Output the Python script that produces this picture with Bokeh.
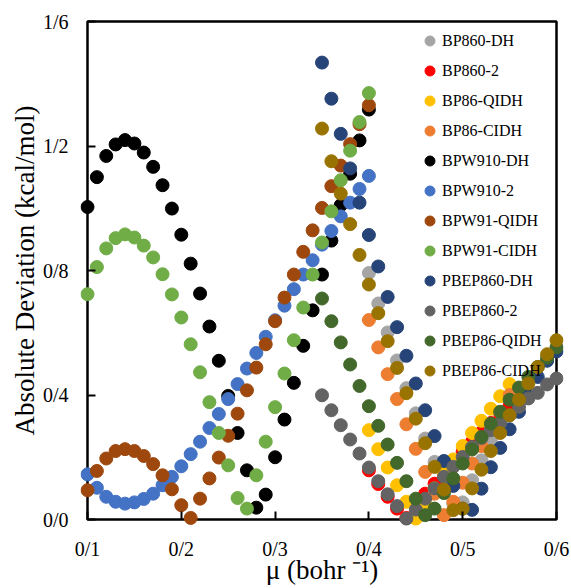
from bokeh.plotting import figure
from bokeh.models import Range1d, FixedTicker, BoxAnnotation
from bokeh.embed import file_html
from bokeh.resources import INLINE

# x positions (mu, bohr^-1)
mu_bpw = [0.10, 0.11, 0.12, 0.13, 0.14, 0.15, 0.16, 0.17, 0.18, 0.19, 0.20,
          0.21, 0.22, 0.23, 0.24, 0.25, 0.26, 0.27, 0.28, 0.29, 0.30,
          0.31, 0.32, 0.33, 0.34, 0.35, 0.36, 0.37, 0.38, 0.39, 0.40]
mu_pbe = [0.35, 0.36, 0.37, 0.38, 0.39, 0.40, 0.41, 0.42, 0.43, 0.44, 0.45,
          0.46, 0.47, 0.48, 0.49, 0.50, 0.51, 0.52, 0.53, 0.54, 0.55,
          0.56, 0.57, 0.58, 0.59, 0.60]
mu_bp86 = [0.40, 0.41, 0.42, 0.43, 0.44, 0.45, 0.46, 0.47, 0.48, 0.49, 0.50,
           0.51, 0.52, 0.53, 0.54, 0.55]

# absolute deviations (kcal/mol)
bp860_dh = [0.792, 0.694, 0.601, 0.511, 0.422, 0.341, 0.260, 0.185, 0.115, 0.050, 0.055,
            0.126, 0.190, 0.255, 0.310, 0.365]
bp860_2 = [0.158, 0.114, 0.073, 0.035, 0.005, 0.045, 0.083, 0.115, 0.150, 0.185, 0.218,
           0.250, 0.280, 0.310, 0.338, 0.365]
bp86_qidh = [0.287, 0.226, 0.167, 0.110, 0.057, 0.003, 0.048, 0.100, 0.150, 0.193, 0.236,
             0.278, 0.317, 0.356, 0.396, 0.435]
bp86_cidh = [0.641, 0.553, 0.467, 0.387, 0.306, 0.227, 0.153, 0.083, 0.014, 0.057, 0.118,
             0.180, 0.236, 0.290, 0.345, 0.400]
bpw910_dh = [1.004, 1.100, 1.168, 1.205, 1.219, 1.208, 1.179, 1.133, 1.074, 0.999, 0.915,
             0.822, 0.726, 0.620, 0.510, 0.397, 0.278, 0.158, 0.038, 0.080, 0.200,
             0.321, 0.439, 0.558, 0.672, 0.787, 0.896, 1.010, 1.111, 1.218, 1.317]
bpw910_2 = [0.145, 0.102, 0.073, 0.057, 0.051, 0.055, 0.066, 0.083, 0.110, 0.137, 0.171,
            0.210, 0.250, 0.294, 0.339, 0.387, 0.435, 0.485, 0.535, 0.587, 0.640,
            0.687, 0.740, 0.787, 0.833, 0.883, 0.927, 0.974, 1.018, 1.062, 1.104]
bpw91_qidh = [0.094, 0.156, 0.196, 0.220, 0.226, 0.220, 0.204, 0.178, 0.142, 0.097, 0.046,
              0.005, 0.067, 0.132, 0.199, 0.269, 0.340, 0.415, 0.488, 0.563, 0.637,
              0.713, 0.787, 0.860, 0.929, 1.001, 1.071, 1.137, 1.206, 1.270, 1.331]
bpw91_cidh = [0.724, 0.811, 0.871, 0.904, 0.916, 0.906, 0.880, 0.842, 0.788, 0.723, 0.649,
              0.563, 0.473, 0.377, 0.278, 0.174, 0.069, 0.035, 0.142, 0.250, 0.361,
              0.469, 0.576, 0.681, 0.787, 0.890, 0.990, 1.090, 1.185, 1.277, 1.370]
pbep860_dh = [1.468, 1.352, 1.239, 1.128, 1.018, 0.914, 0.813, 0.715, 0.618, 0.526, 0.437,
              0.351, 0.268, 0.188, 0.108, 0.035, 0.031, 0.099, 0.168, 0.230, 0.290,
              0.346, 0.400, 0.458, 0.510, 0.540]
pbep860_2 = [0.399, 0.351, 0.303, 0.257, 0.212, 0.167, 0.123, 0.081, 0.043, 0.003, 0.032,
             0.067, 0.100, 0.137, 0.169, 0.201, 0.233, 0.262, 0.287, 0.310, 0.335,
             0.362, 0.389, 0.407, 0.434, 0.453]
pbep86_qidh = [0.710, 0.637, 0.569, 0.498, 0.429, 0.364, 0.301, 0.241, 0.182, 0.123, 0.067,
               0.014, 0.035, 0.085, 0.132, 0.180, 0.225, 0.265, 0.308, 0.346, 0.385,
               0.424, 0.458, 0.490, 0.520, 0.553]
pbep86_cidh = [1.256, 1.151, 1.047, 0.949, 0.850, 0.755, 0.663, 0.573, 0.487, 0.406, 0.324,
               0.245, 0.169, 0.096, 0.030, 0.035, 0.100, 0.160, 0.220, 0.278, 0.335,
               0.385, 0.437, 0.490, 0.531, 0.576]

series_names = ["BP860-DH", "BP860-2", "BP86-QIDH", "BP86-CIDH",
                "BPW910-DH", "BPW910-2", "BPW91-QIDH", "BPW91-CIDH",
                "PBEP860-DH", "PBEP860-2", "PBEP86-QIDH", "PBEP86-CIDH"]
series_x = [mu_bp86, mu_bp86, mu_bp86, mu_bp86,
            mu_bpw, mu_bpw, mu_bpw, mu_bpw,
            mu_pbe, mu_pbe, mu_pbe, mu_pbe]
series_y = [bp860_dh, bp860_2, bp86_qidh, bp86_cidh,
            bpw910_dh, bpw910_2, bpw91_qidh, bpw91_cidh,
            pbep860_dh, pbep860_2, pbep86_qidh, pbep86_cidh]
series_colors = ["#A5A5A5", "#FF0000", "#FFC000", "#ED7D31",
                 "#000000", "#4472C4", "#9E480E", "#70AD47",
                 "#264478", "#636363", "#43682B", "#997300"]

x_ticks = [0.1, 0.2, 0.3, 0.4, 0.5, 0.6]
x_tick_labels = ["0/1", "0/2", "0/3", "0/4", "0/5", "0/6"]
y_ticks = [0.0, 0.4, 0.8, 1.2, 1.6]
y_tick_labels = ["0/0", "0/4", "0/8", "1/2", "1/6"]

FONT = "Liberation Serif"

# plot box (axis limits) is 469 x 498 px; the frame is padded by 7 px so that
# markers sitting on the box edges are drawn whole
BOX_W, BOX_H, PAD = 469, 498, 7
x0, x1 = x_ticks[0], x_ticks[-1]
y0, y1 = y_ticks[0], y_ticks[-1]
xpad = PAD * (x1 - x0) / BOX_W
ypad = PAD * (y1 - y0) / BOX_H

p = figure(frame_width=BOX_W + 2 * PAD, frame_height=BOX_H + 2 * PAD,
           x_range=Range1d(x0 - xpad, x1 + xpad),
           y_range=Range1d(y0 - ypad, y1 + ypad),
           output_backend="svg", toolbar_location=None,
           min_border_left=80, min_border_right=8,
           min_border_top=14, min_border_bottom=60)
p.background_fill_color = "white"
p.border_fill_color = "white"
p.outline_line_color = None
p.xgrid.visible = False
p.ygrid.visible = False

p.add_layout(BoxAnnotation(left=x0, right=x1, bottom=y0, top=y1,
                           fill_color=None, fill_alpha=0,
                           line_color="black", line_alpha=1.0, line_width=2.5,
                           level="underlay"))

for ax in (p.xaxis[0], p.yaxis[0]):
    ax.axis_line_color = None
    ax.major_tick_line_color = "black"
    ax.major_tick_line_width = 2
    ax.major_tick_in = PAD + 8
    ax.major_tick_out = -PAD
    ax.minor_tick_in = 0
    ax.minor_tick_out = 0
    ax.minor_tick_line_color = None
    ax.major_label_text_font = FONT
    ax.major_label_text_font_size = "20px"
    ax.major_label_text_color = "black"
    ax.axis_label_text_font = FONT
    ax.axis_label_text_font_style = "normal"
    ax.axis_label_text_color = "black"

p.xaxis[0].ticker = FixedTicker(ticks=x_ticks)
p.xaxis[0].major_label_overrides = dict(zip(x_ticks, x_tick_labels))
p.yaxis[0].ticker = FixedTicker(ticks=y_ticks)
p.yaxis[0].major_label_overrides = dict(zip(y_ticks, y_tick_labels))

p.xaxis[0].axis_label = "\u03bc (bohr \u207b\u00b9)"
p.xaxis[0].axis_label_text_font_size = "27px"
p.xaxis[0].major_label_standoff = 11
p.xaxis[0].axis_label_standoff = -8
p.yaxis[0].axis_label = "Absolute Deviation (kcal/mol)"
p.yaxis[0].axis_label_text_font_size = "27px"
p.yaxis[0].major_label_standoff = 12
p.yaxis[0].axis_label_standoff = 0

for name, xs, ys, col in zip(series_names, series_x, series_y, series_colors):
    p.scatter(xs, ys, size=13, fill_color=col, line_color=col, legend_label=name)

lg = p.legend[0]
lg.location = (337, 143)
lg.padding = 0
lg.margin = 0
lg.spacing = 5
lg.glyph_width = 25
lg.glyph_height = 25
lg.label_height = 25
lg.label_standoff = 0
lg.label_text_font = FONT
lg.label_text_font_size = "16px"
lg.label_text_color = "black"
lg.border_line_color = None
lg.background_fill_alpha = 0

open("out.html", "w").write(file_html(p, INLINE))
